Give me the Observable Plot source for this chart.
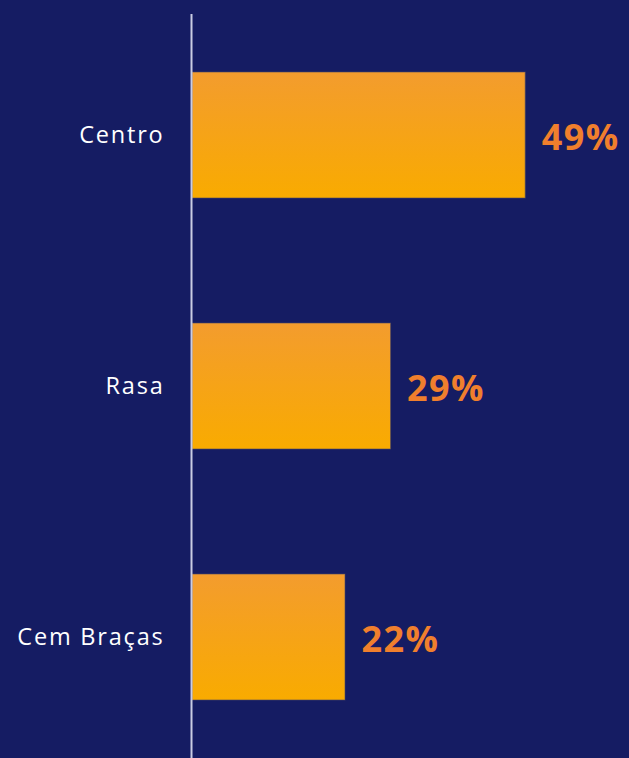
<!DOCTYPE html>
<html>
<head>
<meta charset="utf-8">
<script src="https://cdn.jsdelivr.net/npm/d3@7"></script>
<script src="https://cdn.jsdelivr.net/npm/@observablehq/plot@0.6"></script>
<style>
  html, body { margin: 0; padding: 0; background: #151c63; }
  #chart svg { display: block; }
</style>
</head>
<body>
<div id="chart"></div>
<script>
const categories = ["Centro", "Rasa", "Cem Braças"];
const values = [49, 29.2, 22.5];
const valueLabels = ["49%", "29%", "22%"];

const data = categories.map((c, i) => ({category: c, value: values[i], label: valueLabels[i]}));

const gradientDefs = () => {
  const defs = d3.create("svg:defs");
  const g = defs.append("linearGradient")
    .attr("id", "barGrad")
    .attr("x1", 0).attr("y1", 0).attr("x2", 0).attr("y2", 1);
  g.append("stop").attr("offset", "0%").attr("stop-color", "#f39c2e");
  g.append("stop").attr("offset", "100%").attr("stop-color", "#f9ab00");
  return defs.node();
};

const chart = Plot.plot({
  width: 629,
  height: 758,
  marginLeft: 192,
  marginRight: 29,
  marginTop: 14,
  marginBottom: 0,
  style: {background: "#151c63", fontFamily: "'Open Sans', sans-serif"},
  x: {domain: [0, 60], axis: null},
  y: {domain: categories, paddingInner: 0.5, paddingOuter: 0.2306, label: null},
  marks: [
    gradientDefs,
    Plot.barX(data, {
      y: "category",
      x: "value",
      fill: "url(#barGrad)",
      stroke: "#4b4766",
      strokeWidth: 1,
      strokeOpacity: 0.6
    }),
    Plot.ruleX([0], {stroke: "#c9cce3", strokeWidth: 2, dx: -1}),
    Plot.axisY({
      tickSize: 0,
      tickPadding: 28,
      fontSize: 23.5,
      fill: "#ffffff",
      label: null
    }),
    Plot.text(data, {
      y: "category",
      x: "value",
      text: "label",
      textAnchor: "start",
      dx: 16,
      dy: 3,
      fill: "#f07f2d",
      fontSize: 36,
      fontWeight: "bold"
    })
  ]
});

d3.select(chart).selectAll('g[aria-label="y-axis tick label"] text').attr("letter-spacing", "1.8px");
d3.select(chart).selectAll('g[aria-label="text"] text').attr("letter-spacing", "1.4px");

document.getElementById("chart").appendChild(chart);
</script>
</body>
</html>
